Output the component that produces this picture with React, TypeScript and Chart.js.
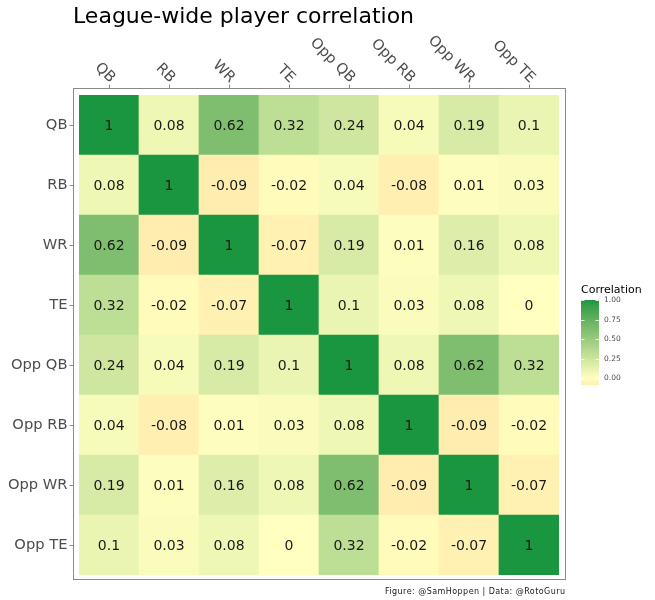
import React, { useEffect, useRef } from "react";
import { Chart, registerables } from "chart.js";

Chart.register(...registerables);

const categories = ["QB", "RB", "WR", "TE", "Opp QB", "Opp RB", "Opp WR", "Opp TE"];
const rowQB = [1, 0.08, 0.62, 0.32, 0.24, 0.04, 0.19, 0.1];
const rowRB = [0.08, 1, -0.09, -0.02, 0.04, -0.08, 0.01, 0.03];
const rowWR = [0.62, -0.09, 1, -0.07, 0.19, 0.01, 0.16, 0.08];
const rowTE = [0.32, -0.02, -0.07, 1, 0.1, 0.03, 0.08, 0];
const rowOppQB = [0.24, 0.04, 0.19, 0.1, 1, 0.08, 0.62, 0.32];
const rowOppRB = [0.04, -0.08, 0.01, 0.03, 0.08, 1, -0.09, -0.02];
const rowOppWR = [0.19, 0.01, 0.16, 0.08, 0.62, -0.09, 1, -0.07];
const rowOppTE = [0.1, 0.03, 0.08, 0, 0.32, -0.02, -0.07, 1];
const legendTicks = [0, 0.25, 0.5, 0.75, 1];

const TITLE = "League-wide player correlation";
const CAPTION = "Figure: @SamHoppen | Data: @RotoGuru";
const LEGEND_TITLE = "Correlation";

// rows listed top to bottom
const rows = [rowQB, rowRB, rowWR, rowTE, rowOppQB, rowOppRB, rowOppWR, rowOppTE];

const LOW = "#d7191c";
const MID = "#ffffbf";
const HIGH = "#1a9641";

function hexToRgb(h: string): number[] {
  return [1, 3, 5].map((i) => parseInt(h.slice(i, i + 2), 16));
}
function srgbToLin(c: number) {
  c /= 255;
  return c <= 0.04045 ? c / 12.92 : Math.pow((c + 0.055) / 1.055, 2.4);
}
function linToSrgb(c: number) {
  const v = c <= 0.0031308 ? 12.92 * c : 1.055 * Math.pow(c, 1 / 2.4) - 0.055;
  return Math.max(0, Math.min(255, Math.round(v * 255)));
}
const Xn = 0.95047, Yn = 1.0, Zn = 1.08883;
function f(t: number) {
  return t > 216 / 24389 ? Math.cbrt(t) : (24389 / 27 * t + 16) / 116;
}
function finv(t: number) {
  return t * t * t > 216 / 24389 ? t * t * t : (116 * t - 16) / (24389 / 27);
}
function rgbToLab(rgb: number[]): number[] {
  const [r, g, b] = rgb.map(srgbToLin);
  const X = 0.4124564 * r + 0.3575761 * g + 0.1804375 * b;
  const Y = 0.2126729 * r + 0.7151522 * g + 0.072175 * b;
  const Z = 0.0193339 * r + 0.119192 * g + 0.9503041 * b;
  const fx = f(X / Xn), fy = f(Y / Yn), fz = f(Z / Zn);
  return [116 * fy - 16, 500 * (fx - fy), 200 * (fy - fz)];
}
function labToRgb(lab: number[]): number[] {
  const fy = (lab[0] + 16) / 116;
  const fx = fy + lab[1] / 500;
  const fz = fy - lab[2] / 200;
  const X = Xn * finv(fx), Y = Yn * finv(fy), Z = Zn * finv(fz);
  const r = 3.2404542 * X - 1.5371385 * Y - 0.4985314 * Z;
  const g = -0.969266 * X + 1.8760108 * Y + 0.041556 * Z;
  const b = 0.0556434 * X - 0.2040259 * Y + 1.0572252 * Z;
  return [linToSrgb(r), linToSrgb(g), linToSrgb(b)];
}
const labLow = rgbToLab(hexToRgb(LOW));
const labMid = rgbToLab(hexToRgb(MID));
const labHigh = rgbToLab(hexToRgb(HIGH));

function colorFor(v: number): string {
  const t = Math.max(-1, Math.min(1, v));
  const a = t >= 0 ? labMid : labMid;
  const b = t >= 0 ? labHigh : labLow;
  const s = Math.abs(t);
  const lab = a.map((x, i) => x + (b[i] - x) * s);
  const c = labToRgb(lab);
  return `rgb(${c[0]},${c[1]},${c[2]})`;
}

const FONT = '"DejaVu Sans", sans-serif';

export default function App() {
  const ref = useRef<HTMLCanvasElement | null>(null);

  useEffect(() => {
    if (!ref.current) return;
    // dataset 0 drawn at the bottom of the stack -> last row
    const datasets = rows
      .slice()
      .reverse()
      .map((r, k) => ({
        label: categories[rows.length - 1 - k],
        data: r.map(() => 1),
        values: r,
        backgroundColor: r.map((v) => colorFor(v)),
        borderWidth: 0,
        barPercentage: 1,
        categoryPercentage: 1,
      }));

    const allVals = rows.flat();
    const vMin = Math.min(...allVals);
    const vMax = Math.max(...allVals);

    const decor = {
      id: "decor",
      afterDatasetsDraw(chart: any) {
        const ctx = chart.ctx as CanvasRenderingContext2D;
        const ca = chart.chartArea;
        const xs = chart.scales.x;
        const ys = chart.scales.y;
        ctx.save();

        // cell values
        ctx.fillStyle = "#1a1a1a";
        ctx.font = `14px ${FONT}`;
        ctx.textAlign = "center";
        ctx.textBaseline = "middle";
        chart.data.datasets.forEach((ds: any, di: number) => {
          const meta = chart.getDatasetMeta(di);
          meta.data.forEach((el: any, i: number) => {
            const cy = (el.y + el.base) / 2;
            ctx.fillText(String(ds.values[i]), el.x, cy + 1);
          });
        });

        // panel border
        const bl = Math.round(ca.left) - 5.5;
        const bt = Math.round(ca.top) - 6.5;
        const br = Math.round(ca.right) + 6.5;
        const bb = Math.round(ca.bottom) + 4.5;
        ctx.strokeStyle = "#8a8a8a";
        ctx.lineWidth = 1;
        ctx.strokeRect(bl, bt, br - bl, bb - bt);

        // ticks + labels
        ctx.strokeStyle = "#8a8a8a";
        ctx.fillStyle = "#4d4d4d";
        ctx.font = `14.7px ${FONT}`;
        categories.forEach((c, i) => {
          const x = Math.round(xs.getPixelForValue(i)) + 0.5;
          ctx.beginPath();
          ctx.moveTo(x, bt);
          ctx.lineTo(x, bt - 4);
          ctx.stroke();
          ctx.save();
          ctx.translate(x + 3, bt - 8);
          ctx.rotate(Math.PI / 4);
          ctx.textAlign = "right";
          ctx.textBaseline = "middle";
          ctx.fillText(c, 0, 0);
          ctx.restore();

          const yv = rows.length - 1 - i + 0.5;
          const y = Math.round(ys.getPixelForValue(yv)) + 0.5;
          ctx.beginPath();
          ctx.moveTo(bl, y);
          ctx.lineTo(bl - 4, y);
          ctx.stroke();
          ctx.textAlign = "right";
          ctx.textBaseline = "middle";
          ctx.fillText(c, bl - 6, y);
        });

        // title
        ctx.fillStyle = "#000000";
        ctx.font = `22px ${FONT}`;
        ctx.textAlign = "left";
        ctx.textBaseline = "alphabetic";
        ctx.fillText(TITLE, 73, 23);

        // caption
        ctx.fillStyle = "#1a1a1a";
        ctx.font = `8px ${FONT}`;
        ctx.textAlign = "right";
        (ctx as any).letterSpacing = "0.45px";
        ctx.fillText(CAPTION, br, 594);
        (ctx as any).letterSpacing = "0px";

        // legend
        const lx = 581;
        const lw = 18;
        const yTop = 300;
        const pxPerUnit = 78;
        const yOf = (v: number) => yTop + (vMax - v) * pxPerUnit;
        const yBot = yOf(vMin);
        ctx.fillStyle = "#000000";
        ctx.font = `11px ${FONT}`;
        ctx.textAlign = "left";
        ctx.fillText(LEGEND_TITLE, lx, 293);
        const grad = ctx.createLinearGradient(0, yTop, 0, yBot);
        const n = 30;
        for (let k = 0; k <= n; k++) {
          const v = vMax - ((vMax - vMin) * k) / n;
          grad.addColorStop(k / n, colorFor(v));
        }
        ctx.fillStyle = grad;
        ctx.fillRect(lx, yTop, lw, yBot - yTop);
        ctx.strokeStyle = "rgba(255,255,255,0.8)";
        ctx.fillStyle = "#4d4d4d";
        ctx.font = `7.5px ${FONT}`;
        ctx.textBaseline = "middle";
        legendTicks.forEach((t) => {
          const y = Math.round(yOf(t)) + 0.5;
          ctx.beginPath();
          ctx.moveTo(lx, y);
          ctx.lineTo(lx + 3.5, y);
          ctx.moveTo(lx + lw - 3.5, y);
          ctx.lineTo(lx + lw, y);
          ctx.stroke();
          ctx.fillText(t.toFixed(2), lx + lw + 5, y);
        });

        ctx.restore();
      },
    };

    const chart = new Chart(ref.current, {
      type: "bar",
      data: { labels: categories, datasets: datasets as any },
      options: {
        animation: false,
        responsive: false,
        maintainAspectRatio: false,
        layout: { padding: { left: 79, top: 95, right: 96, bottom: 25 } },
        plugins: {
          legend: { display: false },
          title: { display: false },
          tooltip: { enabled: false },
        },
        scales: {
          x: { type: "category", display: false, stacked: true, offset: true },
          y: { type: "linear", display: false, stacked: true, min: 0, max: 8 },
        },
      },
      plugins: [decor],
    });
    return () => chart.destroy();
  }, []);

  return (
    <div style={{ position: "absolute", left: 0, top: 0, width: 655, height: 600, background: "#ffffff" }}>
      <canvas ref={ref} width={655} height={600} />
    </div>
  );
}
